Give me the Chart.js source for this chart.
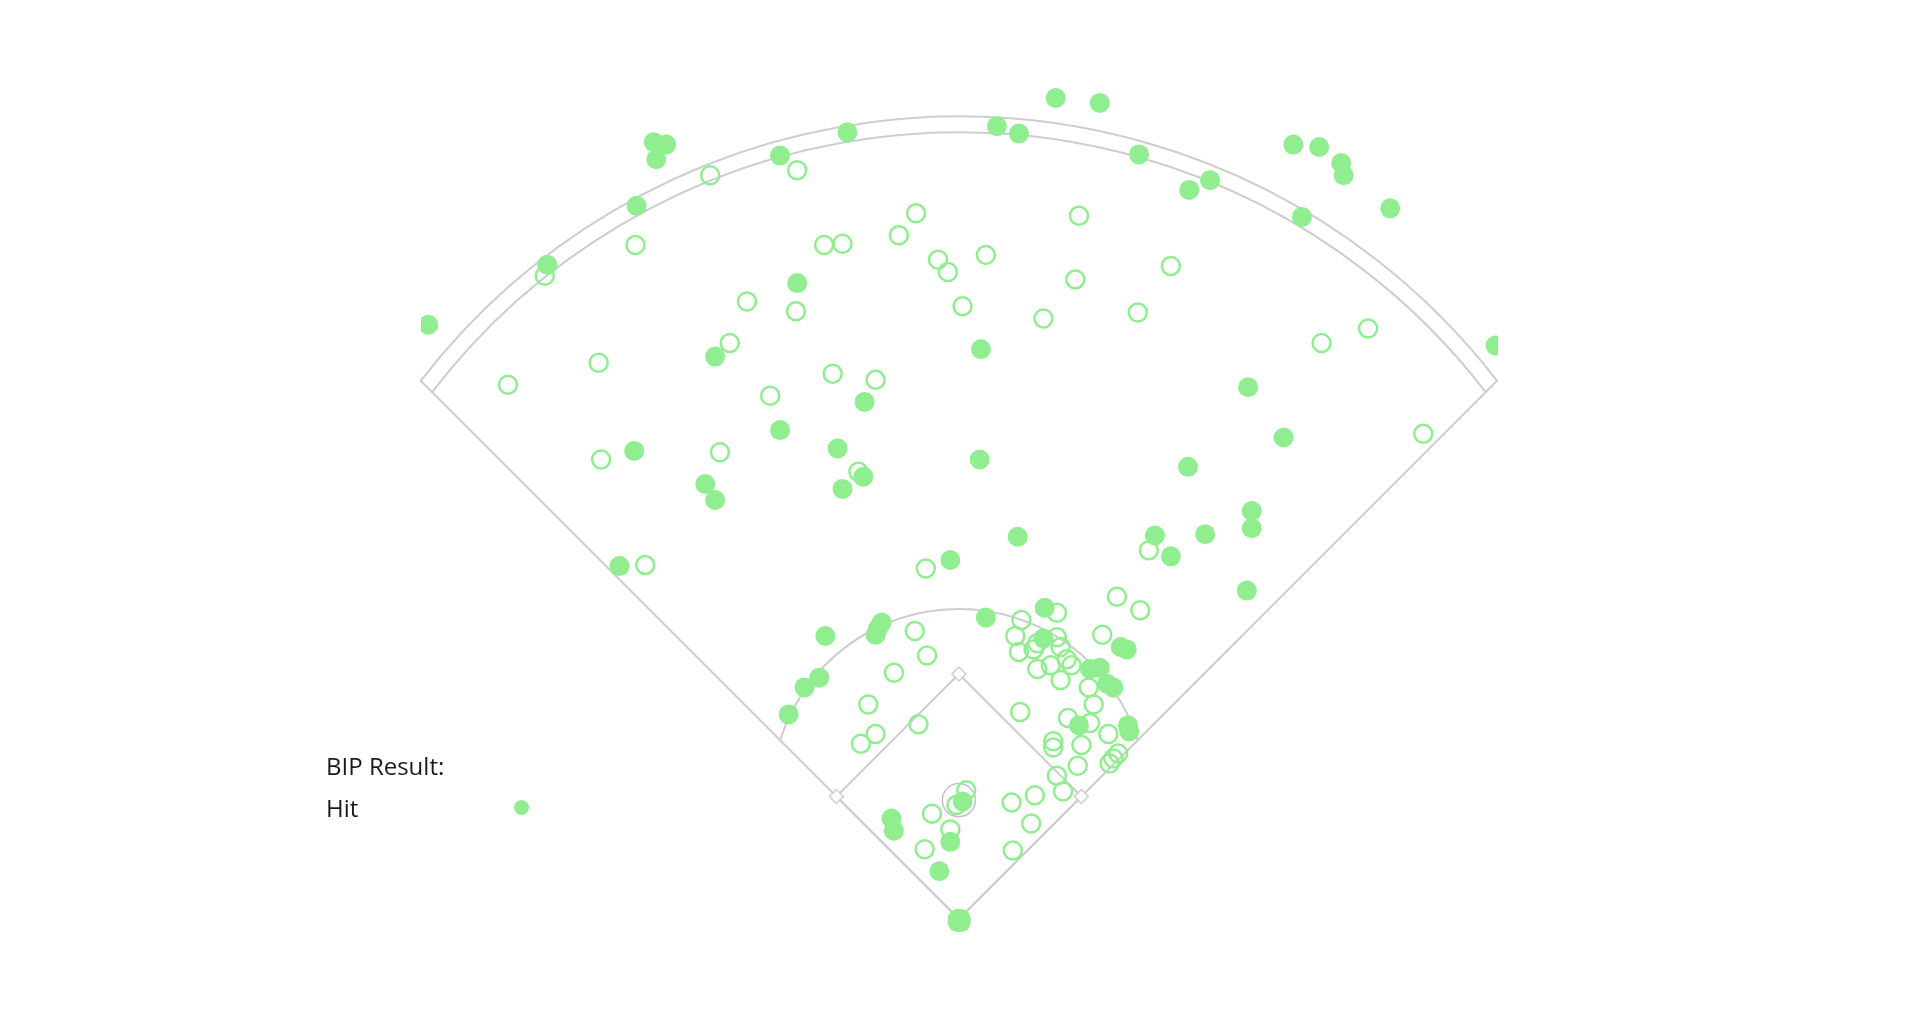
<!DOCTYPE html>
<html>
<head>
<meta charset="utf-8">
<title>BIP Spray Chart</title>
<script src="https://cdn.jsdelivr.net/npm/chart.js@4.4.1/dist/chart.umd.min.js"></script>
<style>
    html, body { margin: 0; padding: 0; background: #fff; }
    #wrap { position: relative; width: 1920px; height: 1032px; }
    .legend-text {
        position: absolute;
        left: 326px;
        font-family: 'Open Sans', sans-serif;
        font-size: 24px;
        line-height: 33px;
        color: #1a1a1a;
        white-space: nowrap;
    }
    .legend-dot {
        position: absolute;
        width: 15px;
        height: 15px;
        border-radius: 50%;
    }
</style>
</head>
<body>
<div id="wrap">
    <canvas id="sprayChart"></canvas>
    <div class="legend-text" id="legendTitle" style="top:749px"></div>
    <div class="legend-text" id="legendHit" style="top:791px"></div>
    <span class="legend-dot" id="legendHitDot" style="left:514px; top:800px"></span>
</div>
<script>
// ========================================
// DATA (spray coordinates, image style: y grows downward)
// ========================================

const legendTitle = 'BIP Result:';
const seriesNames = ['Hit', 'Out'];

// Hits (filled markers)
const hitX = [862, 898, 814, 832, 692, 534, 544, 536, 637, 930,
              1056, 1077, 1095, 1097, 971, 988, 1063, 1135, 520, 447,
              350, 651, 1221, 584, 801, 706, 1019, 637, 1048, 684,
              518, 800, 970, 705, 576, 584, 688, 1022, 1022, 831,
              943, 984, 956, 506, 776, 1018, 853, 805, 674, 720,
              715, 717, 669, 657, 644, 852, 915, 920, 890, 898,
              904, 909, 881, 921, 922, 786, 728, 730, 776, 767,
              782, 784.5, 782, 784.5];
const hitY = [80, 84, 103, 109, 108, 116, 118, 130, 127, 126,
              118, 120, 133, 143, 155, 147, 177, 170, 168, 216,
              265, 231, 282, 291, 285, 328, 316, 351, 357, 366,
              368, 375, 381, 389, 395, 408, 399, 417, 431, 438,
              437, 436, 454, 462, 457, 482, 496, 504, 519, 508,
              518, 513, 553, 561, 583, 521, 528, 530, 546, 545,
              558, 561, 592, 592, 597, 654, 668, 678, 687, 711,
              750, 750, 752.5, 752.5];

// Outs (hollow markers)
const outX = [651, 580, 519, 445, 748, 734, 881, 673, 688, 766,
              774, 805, 956, 878, 610, 650, 786, 852, 929, 1117,
              1079, 596, 489, 415, 680, 715, 629, 1162, 491, 588,
              701, 938, 527, 756, 912, 931, 863, 834, 900, 829,
              832, 847, 863, 866, 844, 871, 875, 847, 858, 866,
              889, 893, 833, 872, 890, 905, 860, 883, 860, 880,
              909, 906, 913, 863, 868, 845, 826, 842, 827, 747,
              757, 730, 709, 750, 715, 703, 789, 781, 761, 776,
              755];
const outY = [139, 143, 200, 225, 174, 192, 176, 200, 199, 212,
              222, 208, 217, 228, 246, 254, 250, 260, 255, 268,
              280, 280, 296, 314, 305, 310, 323, 354, 375, 369,
              385, 449, 461, 464, 487, 498, 500, 506, 518, 519,
              532, 525, 520, 528, 530, 538, 543, 546, 543, 555,
              561, 575, 581, 586, 590, 599, 605, 608, 610, 625,
              619, 623, 615, 633, 646, 649, 655, 672, 694, 515,
              535, 549, 575, 591, 599, 607, 645, 657, 664, 677,
              693];

// ========================================
// FIELD GEOMETRY (same units as the data)
// ========================================

const HOME = [783, 750];
const FIRST_BASE = [883, 650];
const SECOND_BASE = [783, 550];
const THIRD_BASE = [683, 650];
const ARC_CENTER = [783, 650];
const OUTER_FENCE_R = 555;
const INNER_FENCE_R = 542;
const INFIELD_ARC_R = 153;
const MOUND = [783, 653];
const MOUND_R = 13.5;

const X_RANGE = [344, 1223];
const Y_RANGE = [0, 842.2];

const HIT_COLOR = '#90EE90';
const LINE_COLOR = '#cdcdcd';

// ========================================
// FIELD PLUGIN
// ========================================

// distance along each foul line where a circle around ARC_CENTER crosses it
function foulOffset(r) {
    const d = HOME[1] - ARC_CENTER[1];
    return (d + Math.sqrt(2 * r * r - d * d)) / 2;
}

const fieldPlugin = {
    id: 'field',
    beforeDatasetsDraw(chart) {
        const { ctx, scales: { x, y } } = chart;
        const px = (p) => [x.getPixelForValue(p[0]), y.getPixelForValue(p[1])];
        const unit = x.getPixelForValue(1) - x.getPixelForValue(0);

        ctx.save();
        ctx.strokeStyle = LINE_COLOR;
        ctx.lineWidth = 2;
        ctx.lineJoin = 'round';
        ctx.lineCap = 'round';

        // foul lines up to the outer fence
        const tPole = foulOffset(OUTER_FENCE_R);
        const home = px(HOME);
        const left = px([HOME[0] - tPole, HOME[1] - tPole]);
        const right = px([HOME[0] + tPole, HOME[1] - tPole]);
        ctx.beginPath();
        ctx.moveTo(left[0], left[1]);
        ctx.lineTo(home[0], home[1]);
        ctx.lineTo(right[0], right[1]);
        ctx.stroke();

        // fence, warning track and infield grass arcs
        const c = px(ARC_CENTER);
        [OUTER_FENCE_R, INNER_FENCE_R, INFIELD_ARC_R].forEach(r => {
            const t = foulOffset(r);
            const dy = (HOME[1] - t) - ARC_CENTER[1];
            const start = Math.atan2(dy, -t);
            const end = Math.atan2(dy, t);
            ctx.beginPath();
            ctx.arc(c[0], c[1], r * unit, start, end, false);
            ctx.stroke();
        });

        // diamond
        const b1 = px(FIRST_BASE), b2 = px(SECOND_BASE), b3 = px(THIRD_BASE);
        ctx.beginPath();
        ctx.moveTo(home[0], home[1]);
        ctx.lineTo(b1[0], b1[1]);
        ctx.lineTo(b2[0], b2[1]);
        ctx.lineTo(b3[0], b3[1]);
        ctx.closePath();
        ctx.stroke();

        // bases
        ctx.lineWidth = 1.5;
        ctx.fillStyle = '#fff';
        [b1, b2, b3].forEach(b => {
            const s = 7;
            ctx.beginPath();
            ctx.moveTo(b[0], b[1] - s);
            ctx.lineTo(b[0] + s, b[1]);
            ctx.lineTo(b[0], b[1] + s);
            ctx.lineTo(b[0] - s, b[1]);
            ctx.closePath();
            ctx.fill();
            ctx.stroke();
        });

        // pitcher's mound
        const m = px(MOUND);
        ctx.strokeStyle = '#c4c4c4';
        ctx.beginPath();
        ctx.arc(m[0], m[1], MOUND_R * unit, 0, Math.PI * 2);
        ctx.stroke();

        ctx.restore();
    }
};

// ========================================
// CHART
// ========================================

function toPoints(xs, ys) {
    return xs.map((v, i) => ({ x: v, y: ys[i] }));
}

function initSprayChart() {
    const canvas = document.getElementById('sprayChart');
    const wrap = document.getElementById('wrap');
    canvas.width = wrap.clientWidth;
    canvas.height = wrap.clientHeight;

    new Chart(canvas.getContext('2d'), {
        type: 'scatter',
        data: {
            datasets: [{
                label: seriesNames[0],
                data: toPoints(hitX, hitY),
                backgroundColor: HIT_COLOR,
                borderColor: HIT_COLOR,
                borderWidth: 0,
                pointRadius: 10,
                pointHoverRadius: 10,
                clip: 0,
                order: 2
            }, {
                label: seriesNames[1],
                data: toPoints(outX, outY),
                backgroundColor: 'rgba(0,0,0,0)',
                borderColor: HIT_COLOR,
                borderWidth: 2.5,
                pointRadius: 9,
                pointHoverRadius: 9,
                clip: 0,
                order: 1
            }]
        },
        options: {
            responsive: false,
            animation: false,
            events: [],
            layout: {
                autoPadding: false,
                padding: { left: 421, right: 422, top: 0, bottom: 0 }
            },
            plugins: {
                legend: { display: false },
                tooltip: { enabled: false }
            },
            scales: {
                x: { type: 'linear', min: X_RANGE[0], max: X_RANGE[1], display: false },
                y: { type: 'linear', min: Y_RANGE[0], max: Y_RANGE[1], reverse: true, display: false }
            }
        },
        plugins: [fieldPlugin]
    });

    // html legend
    document.getElementById('legendTitle').textContent = legendTitle;
    document.getElementById('legendHit').textContent = seriesNames[0];
    document.getElementById('legendHitDot').style.background = HIT_COLOR;
}

document.addEventListener('DOMContentLoaded', initSprayChart);
</script>
</body>
</html>
